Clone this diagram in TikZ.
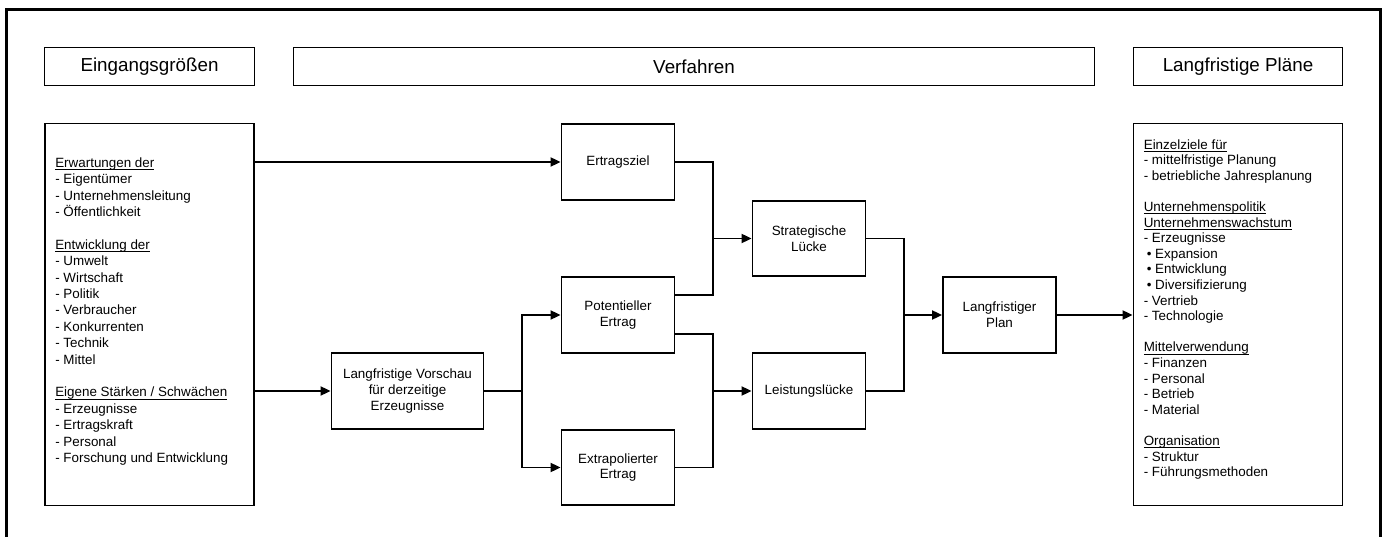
\documentclass[tikz,border=0pt]{standalone}
\usepackage{fontspec}
\setmainfont{Liberation Sans}
\usetikzlibrary{arrows.meta,calc}
% underline drawn close to the baseline
\newcommand\ulx[1]{\leavevmode\setbox0=\hbox{#1}\rlap{\rule[-2.6pt]{\wd0}{0.9pt}}\box0}
\begin{document}
\begin{tikzpicture}[x=1pt,y=-1pt,
  box/.style={draw, line width=1.8pt, inner sep=0pt, align=center,
    font=\fontsize{13.4pt}{15.8pt}\selectfont},
  head/.style={draw, line width=1.8pt, minimum height=38pt, inner sep=0pt,
    font=\fontsize{18.8pt}{22pt}\selectfont},
  stepbox/.style={box, minimum width=113pt, minimum height=75.5pt},
  listbox/.style={draw, line width=1.8pt, inner sep=0pt, minimum width=209pt, minimum height=382pt},
  listtext/.style={inner sep=0pt, align=left, anchor=west},
  link/.style={line width=1.8pt},
  arr/.style={link, -{Triangle[length=10pt,width=9pt]}},
]
\useasboundingbox (0,0) rectangle (1386,537);

% outer frame, open at the bottom
\draw[line width=3pt] (6.5,560) -- (6.5,9.5) -- (1380,9.5) -- (1380,560);

% column headings
\node[head, minimum width=210pt] (hin)  at (149.5,66.5) {Eingangsgrößen};
\node[head, minimum width=801pt] (hver) at (694,66.5)   {Verfahren};
\node[head, minimum width=209pt] (hout) at (1238,66.5)  {Langfristige Pläne};

% input list
\node[listbox] (inbox) at (149.5,314.5) {};
\node[listtext, font=\fontsize{13.4pt}{16.4pt}\selectfont] (intxt)
  at ([xshift=11pt,yshift=3pt]inbox.west) {%
\ulx{Erwartungen der}\\
- Eigentümer\\
- Unternehmensleitung\\
- Öffentlichkeit\\
~\\
\ulx{Entwicklung der}\\
- Umwelt\\
- Wirtschaft\\
- Politik\\
- Verbraucher\\
- Konkurrenten\\
- Technik\\
- Mittel\\
~\\
\ulx{Eigene Stärken / Schwächen}\\
- Erzeugnisse\\
- Ertragskraft\\
- Personal\\
- Forschung und Entwicklung};

% output list
\node[listbox] (outbox) at (1238,314.5) {};
\node[listtext, font=\fontsize{13.4pt}{15.6pt}\selectfont] (outtxt)
  at ([xshift=11pt,yshift=5pt]outbox.west) {%
\ulx{Einzelziele für}\\
- mittelfristige Planung\\
- betriebliche Jahresplanung\\
~\\
\ulx{Unternehmenspolitik}\\
\ulx{Unternehmenswachstum}\\
- Erzeugnisse\\
\hspace*{3pt}• Expansion\\
\hspace*{3pt}• Entwicklung\\
\hspace*{3pt}• Diversifizierung\\
- Vertrieb\\
- Technologie\\
~\\
\ulx{Mittelverwendung}\\
- Finanzen\\
- Personal\\
- Betrieb\\
- Material\\
~\\
\ulx{Organisation}\\
- Struktur\\
- Führungsmethoden};

% procedure boxes
\node[stepbox] (ziel) at (618,162)   {Ertragsziel};
\node[stepbox] (pot)  at (618,315)   {Potentieller\\Ertrag};
\node[stepbox] (ext)  at (618,467.5) {Extrapolierter\\Ertrag};
\node[box, minimum width=152pt, minimum height=75.5pt] (vor) at (407.5,391)
  {Langfristige Vorschau\\für derzeitige\\Erzeugnisse};
\node[stepbox] (strat) at (809,238.5) {Strategische\\Lücke};
\node[stepbox] (leist) at (809,391)   {Leistungslücke};
\node[stepbox] (plan)  at (999.5,315) {Langfristiger\\Plan};

% junction points
\coordinate (j1) at (522,391);
\coordinate (b1) at (713,238.5);
\coordinate (b2) at (713,391);
\coordinate (b3) at (904,315);
\coordinate (potup) at ([yshift=20pt]pot.east);
\coordinate (potdn) at ([yshift=-19pt]pot.east);

% connectors
\draw[arr] (ziel.west -| inbox.east) -- (ziel.west);
\draw[arr] (vor.west -| inbox.east) -- (vor.west);
\draw[link] (vor.east) -- (j1);
\draw[arr] (j1) |- (pot.west);
\draw[arr] (j1) |- (ext.west);
\draw[link] (ziel.east) -| (b1) |- (potup);
\draw[arr] (b1) -- (strat.west);
\draw[link] (potdn) -| (b2) |- (ext.east);
\draw[arr] (b2) -- (leist.west);
\draw[link] (strat.east) -| (b3) |- (leist.east);
\draw[arr] (b3) -- (plan.west);
\draw[arr] (plan.east) -- (plan.east -| outbox.west);
\end{tikzpicture}
\end{document}
